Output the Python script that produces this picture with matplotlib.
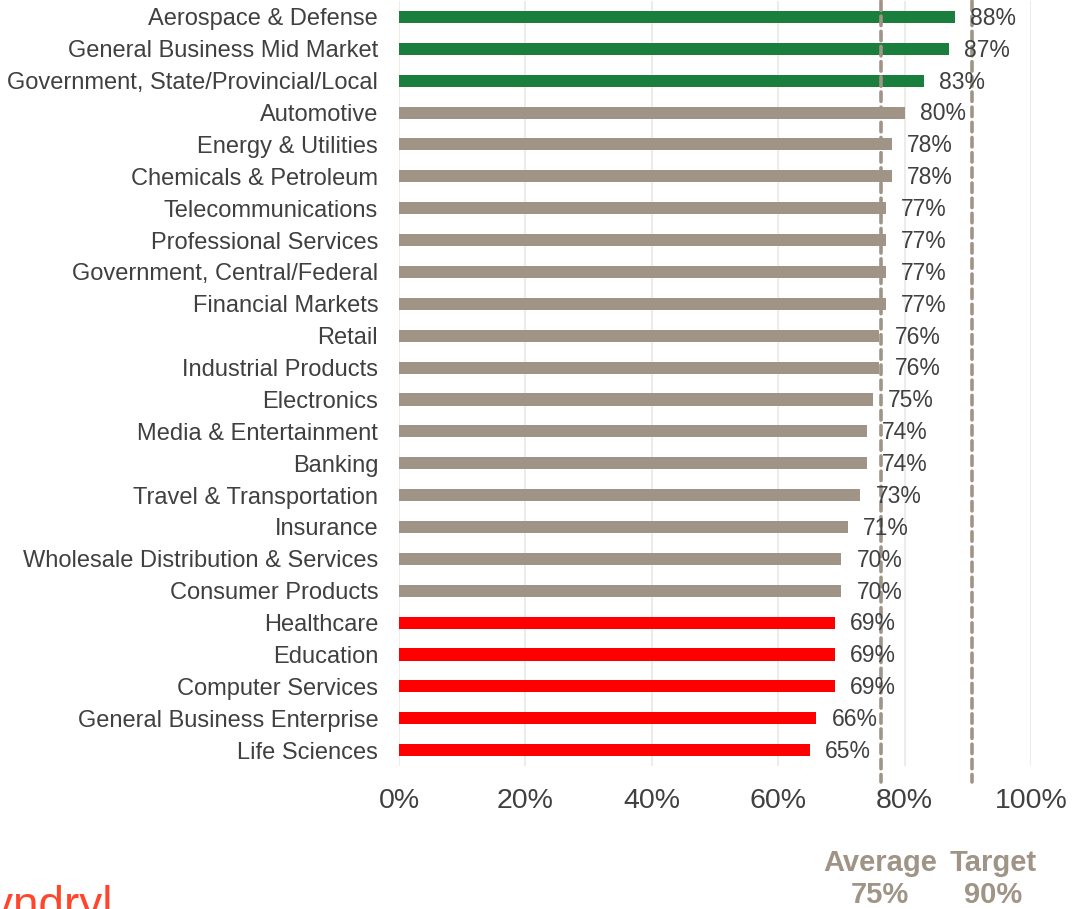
import matplotlib.pyplot as plt

categories = [
    "Aerospace & Defense", "General Business Mid Market",
    "Government, State/Provincial/Local", "Automotive", "Energy & Utilities",
    "Chemicals & Petroleum", "Telecommunications", "Professional Services",
    "Government, Central/Federal", "Financial Markets", "Retail",
    "Industrial Products", "Electronics", "Media & Entertainment", "Banking",
    "Travel & Transportation", "Insurance", "Wholesale Distribution & Services",
    "Consumer Products", "Healthcare", "Education", "Computer Services",
    "General Business Enterprise", "Life Sciences",
]
values = [88, 87, 83, 80, 78, 78, 77, 77, 77, 77, 76, 76, 75, 74, 74, 73,
          71, 70, 70, 69, 69, 69, 66, 65]
groups = ["top"] * 3 + ["mid"] * 16 + ["low"] * 5
xticks = [0, 20, 40, 60, 80, 100]

# reference lines (drawn where they sit in the original)
average_pos, target_pos = 76.2, 90.7
average_label, target_label = "Average\n75%", "Target\n90%"

colors = {"top": "#1a7f3c", "mid": "#a09487", "low": "#ff0000"}
ref_color = "#a09487"
text_color = "#404040"

plt.rcParams['font.family'] = ['Liberation Sans', 'DejaVu Sans']

fig = plt.figure(figsize=(10.76, 9.09), dpi=100)
ax = fig.add_axes([0.3708, 0.1573, 0.5874, 0.8416])

y = list(range(len(categories)))
ax.barh(y, values, height=0.38, color=[colors[g] for g in groups], zorder=2)

for yi, v in zip(y, values):
    ax.annotate(f"{v}%", xy=(v, yi), xytext=(11, -1), textcoords="offset points",
                va="center", ha="left", fontsize=16.5, color=text_color, zorder=4)

for pos in (average_pos, target_pos):
    ax.plot([pos, pos], [-0.5, 24.0], color=ref_color, lw=2.6,
            linestyle=(0, (2.6, 1.6)), dash_capstyle="round",
            clip_on=False, zorder=3)

ax.set_ylim(len(categories) - 0.5, -0.5)
ax.set_xlim(0, 100)
ax.set_yticks(y)
ax.set_yticklabels(categories, fontsize=17, color=text_color)
ax.set_xticks(xticks)
ax.set_xticklabels([f"{t}%" for t in xticks], fontsize=20.5, color=text_color)
ax.tick_params(axis="y", length=0, pad=15)
ax.tick_params(axis="x", length=0, pad=16)
ax.grid(axis="x", color="#eeebe8", lw=1.5, zorder=0)
ax.set_axisbelow(True)
for s in ax.spines.values():
    s.set_visible(False)

fig.text(880 / 1076, 1 - 879 / 909, average_label, ha="center", va="center",
         fontsize=21, fontweight="bold", color=ref_color, linespacing=1.15)
fig.text(993 / 1076, 1 - 879 / 909, target_label, ha="center", va="center",
         fontsize=21, fontweight="bold", color=ref_color, linespacing=1.15)

fig.text(-0.03, -0.022, "kyndryl", ha="left", va="bottom", fontsize=33,
         color="#ff462d")

fig.savefig("out.png", dpi=100)
